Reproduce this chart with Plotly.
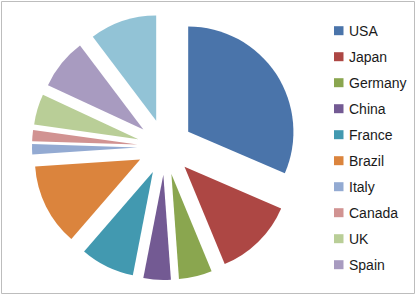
import plotly.graph_objects as go

# Data (shares, in percent)
countries = ["USA", "Japan", "Germany", "China", "France", "Brazil",
             "Italy", "Canada", "UK", "Spain", "Other"]
shares = [31.5, 12.3, 5.1, 4.2, 8.3, 12.6, 1.6, 1.7, 4.7, 7.8, 10.3]
legend_items = countries[:10]  # legend in the reference shows only first ten

colors = ["#4A74AA", "#AD4744", "#8AA64F", "#735A93", "#4299B0", "#DB843D",
          "#93AAD2", "#D19392", "#B9CE97", "#A89BC0", "#92C3D6"]

W, H = 417, 296

fig = go.Figure()
fig.add_trace(go.Pie(
    labels=countries,
    values=shares,
    sort=False,
    direction="clockwise",
    rotation=0,
    pull=[0.264] * len(countries),
    marker=dict(colors=colors, line=dict(width=0)),
    textinfo="none",
    showlegend=False,
    domain=dict(x=[32 / W, 298 / W], y=[(H - 281) / H, (H - 13) / H]),
))

shapes = [dict(type="rect", xref="paper", yref="paper",
               x0=1.5 / W, x1=(W - 2.5) / W, y0=2.5 / H, y1=(H - 1.5) / H,
               line=dict(color="#BDBDBD", width=1), fillcolor="rgba(0,0,0,0)")]
annotations = []
row0, step = 30.7, 26.0
for i, name in enumerate(legend_items):
    yc = row0 + i * step
    shapes.append(dict(type="rect", xref="paper", yref="paper",
                       x0=334 / W, x1=343.5 / W,
                       y0=1 - (yc + 4.5) / H, y1=1 - (yc - 4.5) / H,
                       line=dict(width=0), fillcolor=colors[i]))
    annotations.append(dict(x=347 / W, y=1 - yc / H, xref="paper", yref="paper",
                            text=name, showarrow=False, xanchor="left",
                            yanchor="middle",
                            font=dict(family="Liberation Sans, Arial", size=14,
                                      color="#1a1a1a")))

fig.update_layout(
    width=W, height=H,
    margin=dict(l=0, r=0, t=0, b=0),
    paper_bgcolor="white",
    plot_bgcolor="white",
    shapes=shapes,
    annotations=annotations,
)

fig.write_html("out.html")
